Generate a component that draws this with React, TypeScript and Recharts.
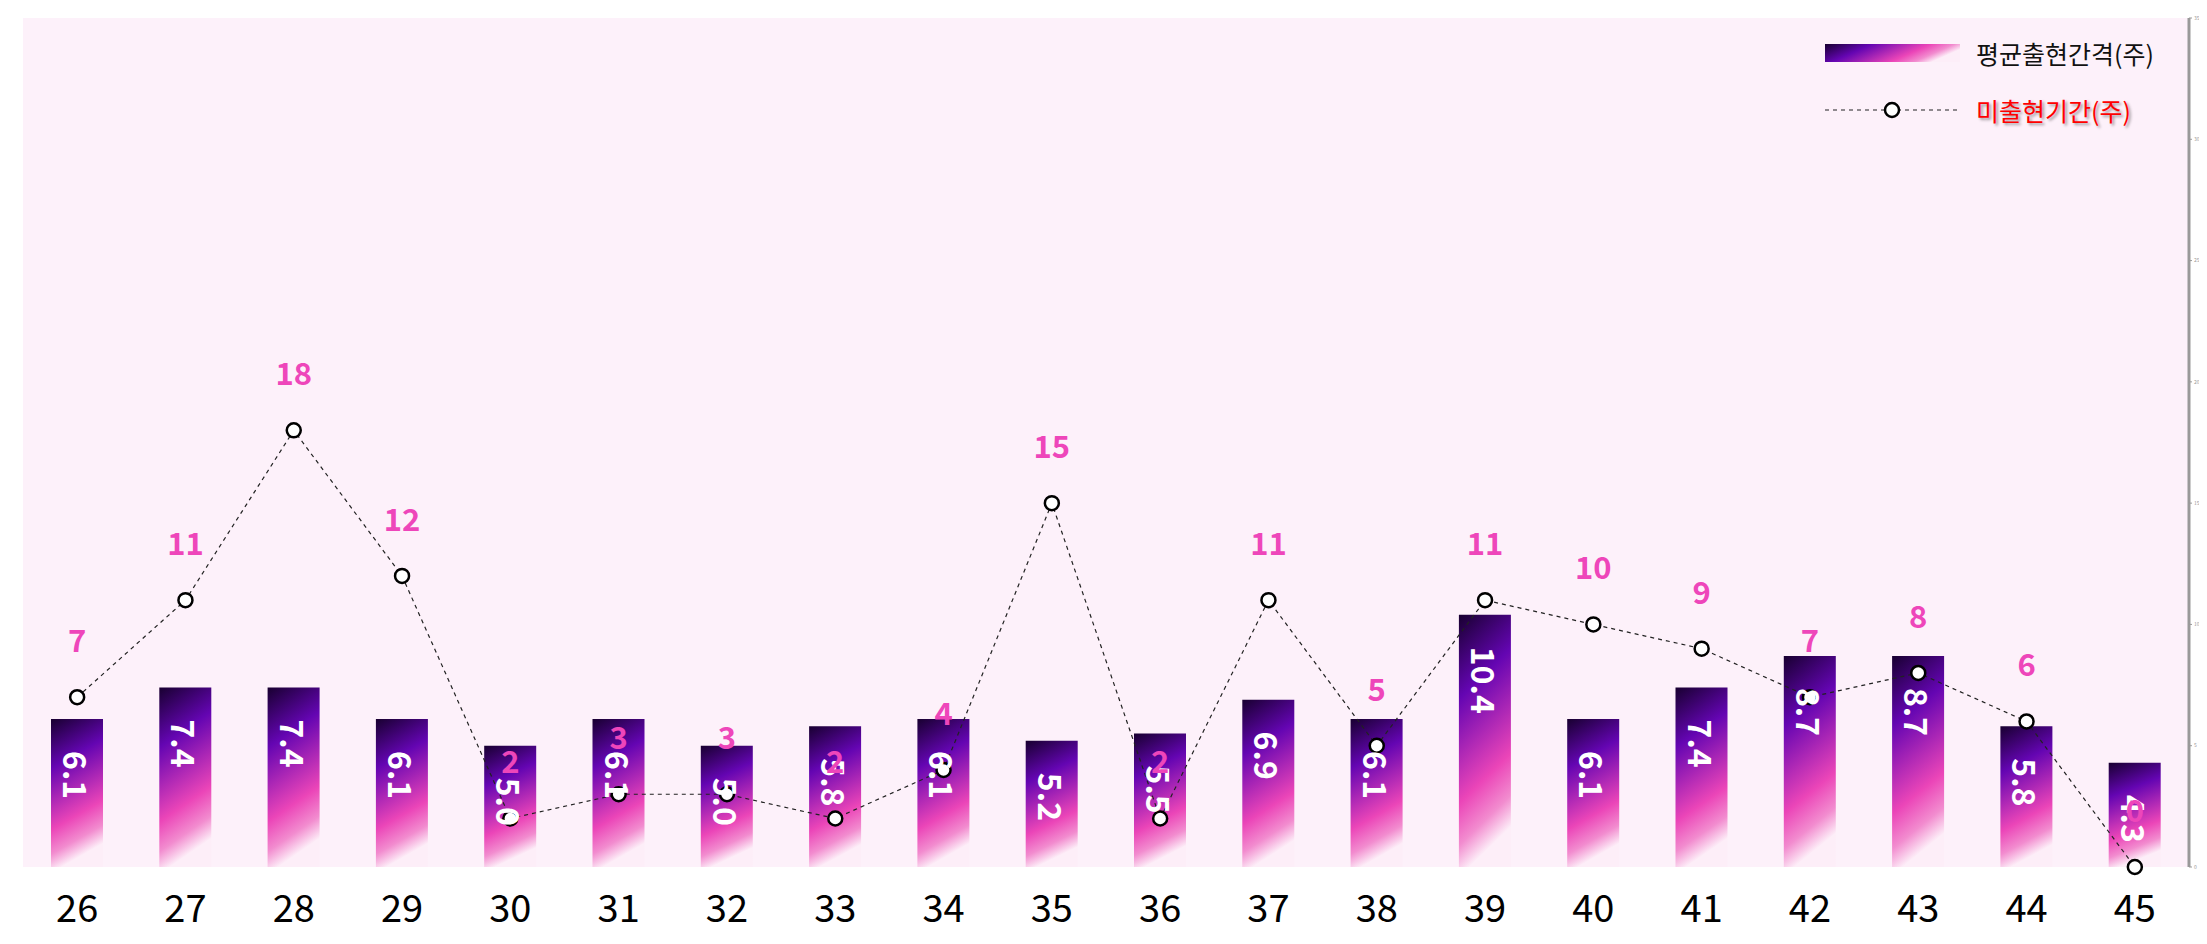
import React from "react";
import {
  ComposedChart,
  Bar,
  Line,
  XAxis,
  YAxis,
  CartesianGrid,
  Legend,
  LabelList,
} from "recharts";

// weeks on the x axis
const weeks = [
  "26", "27", "28", "29", "30", "31", "32", "33", "34", "35",
  "36", "37", "38", "39", "40", "41", "42", "43", "44", "45",
];

// 평균출현간격(주)
const avgInterval = [
  6.1, 7.4, 7.4, 6.1, 5.0, 6.1, 5.0, 5.8, 6.1, 5.2,
  5.5, 6.9, 6.1, 10.4, 6.1, 7.4, 8.7, 8.7, 5.8, 4.3,
];

// 미출현기간(주)
const missingWeeks = [
  7, 11, 18, 12, 2, 3, 3, 2, 4, 15,
  2, 11, 5, 11, 10, 9, 7, 8, 6, 0,
];

const yTicks = [0, 5, 10, 15, 20, 25, 30, 35];

const BAR_NAME = "평균출현간격(주)";
const LINE_NAME = "미출현기간(주)";

const FONT = '"Noto Sans CJK KR", "Noto Sans", sans-serif';
const PINK = "#ee46ba";

const data = weeks.map((week, i) => ({
  week,
  avg: avgInterval[i],
  miss: missingWeeks[i],
}));

const gradStops = (
  <>
    <stop offset="0%" stopColor="#180030" />
    <stop offset="32%" stopColor="#6405b2" />
    <stop offset="72%" stopColor="#eb45b8" />
    <stop offset="88%" stopColor="#f28ccf" />
    <stop offset="100%" stopColor="#fdeef8" />
  </>
);

const BarValueLabel = (props: any) => {
  const { x, y, width, value } = props;
  const cx = Number(x) + Number(width) / 2;
  const ty = Number(y) + 32;
  return (
    <text
      x={cx}
      y={ty}
      transform={`rotate(90 ${cx} ${ty})`}
      fill="#ffffff"
      fontSize={32}
      fontWeight={700}
      fontFamily={FONT}
      textAnchor="start"
      dominantBaseline="central"
    >
      {Number(value).toFixed(1)}
    </text>
  );
};

const LineValueLabel = (props: any) => {
  const { x, y, value } = props;
  return (
    <text
      x={x}
      y={Number(y) - 45}
      fill={PINK}
      fontSize={31}
      fontWeight={700}
      fontFamily={FONT}
      textAnchor="middle"
    >
      {value}
    </text>
  );
};

const ChartLegend = () => (
  <div style={{ fontFamily: FONT, fontSize: 25 }}>
    <div style={{ display: "flex", alignItems: "center", height: 40 }}>
      <svg width={135} height={18} style={{ marginRight: 16 }}>
        <defs>
          <linearGradient id="legendGrad" x1="0" y1="0" x2="1" y2="0.3">
            {gradStops}
          </linearGradient>
        </defs>
        <rect x={0} y={0} width={135} height={18} fill="url(#legendGrad)" />
      </svg>
      <span style={{ color: "#111" }}>{BAR_NAME}</span>
    </div>
    <div style={{ display: "flex", alignItems: "center", height: 40, marginTop: 17 }}>
      <svg width={135} height={20} style={{ marginRight: 16 }}>
        <line x1={0} y1={10} x2={135} y2={10} stroke="#222" strokeWidth={1.2} strokeDasharray="4 4" />
        <circle cx={67} cy={10} r={7} fill="#fff" stroke="#000" strokeWidth={2.5} />
      </svg>
      <span style={{ color: "#ff0000", textShadow: "2px 2px 3px rgba(0,0,0,0.4)" }}>
        {LINE_NAME}
      </span>
    </div>
  </div>
);

export default function App() {
  return (
    <div style={{ width: 2191, height: 928, fontFamily: FONT }}>
      <ComposedChart
        width={2191}
        height={928}
        data={data}
        margin={{ top: 10, right: 0, bottom: 0, left: 15 }}
      >
        <defs>
          <linearGradient id="barGrad" x1="0" y1="0" x2="0.2" y2="1">
            {gradStops}
          </linearGradient>
        </defs>
        <CartesianGrid horizontal={false} vertical={false} fill="#fdf1fa" />
        <XAxis
          dataKey="week"
          axisLine={false}
          tickLine={false}
          tickSize={6}
          tickMargin={22}
          height={69}
          interval={0}
          tick={{ fontSize: 38, fill: "#000", fontFamily: FONT }}
        />
        <YAxis
          orientation="right"
          domain={[0, 35]}
          ticks={yTicks}
          width={10}
          tickSize={3}
          axisLine={{ stroke: "#999", strokeWidth: 3 }}
          tickLine={{ stroke: "#999" }}
          tick={{ fontSize: 5, fill: "#999" }}
        />
        <Legend
          content={<ChartLegend />}
          layout="vertical"
          align="center"
          verticalAlign="middle"
          wrapperStyle={{ top: 25, left: 1817, width: 380, height: 100 }}
        />
        <Bar
          dataKey="avg"
          name={BAR_NAME}
          fill="url(#barGrad)"
          barSize={52}
          isAnimationActive={false}
        >
          <LabelList dataKey="avg" content={<BarValueLabel />} />
        </Bar>
        <Line
          type="linear"
          dataKey="miss"
          name={LINE_NAME}
          stroke="#222"
          strokeWidth={1.2}
          strokeDasharray="4 4"
          dot={{ r: 7, fill: "#fff", stroke: "#000", strokeWidth: 2.5, strokeDasharray: "0" }}
          activeDot={false}
          isAnimationActive={false}
        >
          <LabelList dataKey="miss" content={<LineValueLabel />} />
        </Line>
      </ComposedChart>
    </div>
  );
}
